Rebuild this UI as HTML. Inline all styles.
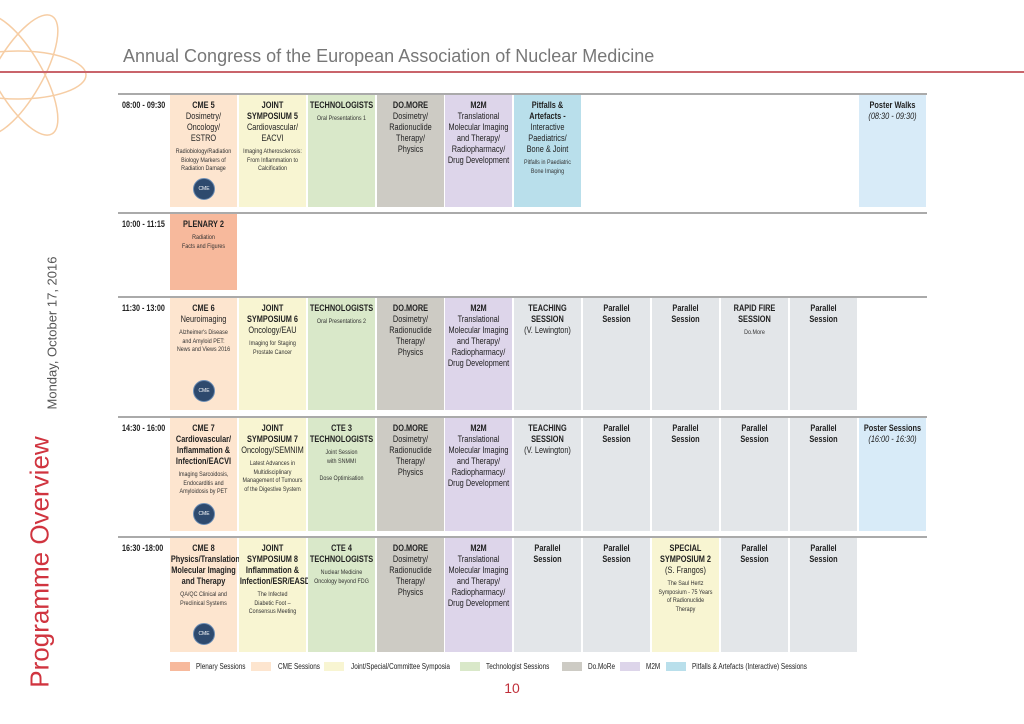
<!DOCTYPE html>
<html><head><meta charset="utf-8"><style>
body{margin:0;width:1024px;height:724px;background:#fff;position:relative;overflow:hidden;font-family:"Liberation Sans",sans-serif;color:#222}
.c{position:absolute;width:82px;text-align:center;font-size:9px;line-height:11px;box-sizing:border-box;padding:5px 1px 0;transform:scaleX(0.817);transform-origin:left top}
.c b{font-weight:bold}
.s{font-size:6.6px;line-height:8.5px;display:block;margin-top:4px;color:#333}
.t{position:absolute;left:122px;font-size:9px;font-weight:bold;transform:scaleX(0.8);transform-origin:left top;white-space:nowrap}
.ln{position:absolute;left:118px;width:809px;height:2px;background:#aaa}
.cme{position:absolute;width:20px;height:20px;border-radius:50%;background:#2e4a6e;border:1px solid #6b8db5;color:#fff;font-size:5px;line-height:20px;text-align:center}
.sw{position:absolute;top:662px;width:20px;height:9px}
.lt{position:absolute;top:662px;font-size:8px;line-height:9px;transform:scaleX(0.8);transform-origin:left top;white-space:nowrap}
.P{background:#f7b99c}.C{background:#fde5cf}.J{background:#f8f5d2}.T{background:#d9e8c9}.D{background:#cdcbc4}.M{background:#ddd5ea}.F{background:#b9dfeb}.G{background:#e3e6e9}.B{background:#d8ebf8}
</style></head><body>
<svg style="position:absolute;left:0;top:0" width="90" height="190"><g fill="none" stroke="#f6cda4" stroke-width="1.5">
<ellipse cx="18" cy="75" rx="68" ry="24" transform="rotate(60 18 75)"/>
<ellipse cx="18" cy="75" rx="68" ry="24" transform="rotate(-60 18 75)"/>
<ellipse cx="18" cy="75" rx="68" ry="24"/></g></svg>
<div style="position:absolute;left:123px;top:46px;font-size:18px;color:#777;font-weight:300">Annual Congress of the European Association of Nuclear Medicine</div>
<div style="position:absolute;left:0;top:71px;width:1024px;height:1.5px;background:#c9646b"></div>
<div style="position:absolute;left:52px;top:333px;transform:translate(-50%,-50%) rotate(-90deg);font-size:13px;color:#555;white-space:nowrap">Monday, October 17, 2016</div>
<div style="position:absolute;left:40px;top:562px;transform:translate(-50%,-50%) rotate(-90deg);font-size:26px;color:#d0343f;white-space:nowrap">Programme Overview</div>

<div class="ln" style="top:93px"></div><div class="ln" style="top:212px"></div><div class="ln" style="top:296px"></div><div class="ln" style="top:416px"></div><div class="ln" style="top:536px"></div>

<div class="t" style="top:100px">08:00 - 09:30</div>
<div class="t" style="top:219px">10:00 - 11:15</div>
<div class="t" style="top:303px">11:30 - 13:00</div>
<div class="t" style="top:423px">14:30 - 16:00</div>
<div class="t" style="top:543px">16:30 -18:00</div>

<!-- Row 1 -->
<div class="c C" style="left:170px;top:95px;height:112px"><b>CME 5</b><br>Dosimetry/<br>Oncology/<br>ESTRO<span class="s">Radiobiology/Radiation Biology Markers of Radiation Damage</span></div>
<div class="cme" style="left:193px;top:178px">CME</div>
<div class="c J" style="left:239px;top:95px;height:112px"><b>JOINT<br>SYMPOSIUM 5</b><br>Cardiovascular/<br>EACVI<span class="s">Imaging Atherosclerosis: From Inflammation to Calcification</span></div>
<div class="c T" style="left:308px;top:95px;height:112px"><b>TECHNOLOGISTS</b><span class="s">Oral Presentations 1</span></div>
<div class="c D" style="left:377px;top:95px;height:112px"><b>DO.MORE</b><br>Dosimetry/<br>Radionuclide<br>Therapy/<br>Physics</div>
<div class="c M" style="left:445px;top:95px;height:112px"><b>M2M</b><br>Translational<br>Molecular Imaging<br>and Therapy/<br>Radiopharmacy/<br>Drug Development</div>
<div class="c F" style="left:514px;top:95px;height:112px"><b>Pitfalls &amp;<br>Artefacts -</b><br>Interactive<br>Paediatrics/<br>Bone &amp; Joint<span class="s">Pitfalls in Paediatric<br>Bone Imaging</span></div>
<div class="c B" style="left:859px;top:95px;height:112px"><b>Poster Walks</b><br><i>(08:30 - 09:30)</i></div>

<!-- Row 2 -->
<div class="c P" style="left:170px;top:214px;height:76px"><b>PLENARY 2</b><span class="s">Radiation<br>Facts and Figures</span></div>

<!-- Row 3 -->
<div class="c C" style="left:170px;top:298px;height:112px"><b>CME 6</b><br>Neuroimaging<span class="s">Alzheimer's Disease<br>and Amyloid PET:<br>News and Views 2016</span></div>
<div class="cme" style="left:193px;top:380px">CME</div>
<div class="c J" style="left:239px;top:298px;height:112px"><b>JOINT<br>SYMPOSIUM 6</b><br>Oncology/EAU<span class="s">Imaging for Staging<br>Prostate Cancer</span></div>
<div class="c T" style="left:308px;top:298px;height:112px"><b>TECHNOLOGISTS</b><span class="s">Oral Presentations 2</span></div>
<div class="c D" style="left:377px;top:298px;height:112px"><b>DO.MORE</b><br>Dosimetry/<br>Radionuclide<br>Therapy/<br>Physics</div>
<div class="c M" style="left:445px;top:298px;height:112px"><b>M2M</b><br>Translational<br>Molecular Imaging<br>and Therapy/<br>Radiopharmacy/<br>Drug Development</div>
<div class="c G" style="left:514px;top:298px;height:112px"><b>TEACHING<br>SESSION</b><br>(V. Lewington)</div>
<div class="c G" style="left:583px;top:298px;height:112px"><b>Parallel<br>Session</b></div>
<div class="c G" style="left:652px;top:298px;height:112px"><b>Parallel<br>Session</b></div>
<div class="c G" style="left:721px;top:298px;height:112px"><b>RAPID FIRE<br>SESSION</b><span class="s">Do.More</span></div>
<div class="c G" style="left:790px;top:298px;height:112px"><b>Parallel<br>Session</b></div>

<!-- Row 4 -->
<div class="c C" style="left:170px;top:418px;height:113px"><b>CME 7<br>Cardiovascular/<br>Inflammation &amp;<br>Infection/EACVI</b><span class="s">Imaging Sarcoidosis,<br>Endocarditis and<br>Amyloidosis by PET</span></div>
<div class="cme" style="left:193px;top:503px">CME</div>
<div class="c J" style="left:239px;top:418px;height:113px"><b>JOINT<br>SYMPOSIUM 7</b><br>Oncology/SEMNIM<span class="s">Latest Advances in Multidisciplinary Management of Tumours of the Digestive System</span></div>
<div class="c T" style="left:308px;top:418px;height:113px"><b>CTE 3<br>TECHNOLOGISTS</b><span class="s">Joint Session<br>with SNMMI<br><br>Dose Optimisation</span></div>
<div class="c D" style="left:377px;top:418px;height:113px"><b>DO.MORE</b><br>Dosimetry/<br>Radionuclide<br>Therapy/<br>Physics</div>
<div class="c M" style="left:445px;top:418px;height:113px"><b>M2M</b><br>Translational<br>Molecular Imaging<br>and Therapy/<br>Radiopharmacy/<br>Drug Development</div>
<div class="c G" style="left:514px;top:418px;height:113px"><b>TEACHING<br>SESSION</b><br>(V. Lewington)</div>
<div class="c G" style="left:583px;top:418px;height:113px"><b>Parallel<br>Session</b></div>
<div class="c G" style="left:652px;top:418px;height:113px"><b>Parallel<br>Session</b></div>
<div class="c G" style="left:721px;top:418px;height:113px"><b>Parallel<br>Session</b></div>
<div class="c G" style="left:790px;top:418px;height:113px"><b>Parallel<br>Session</b></div>
<div class="c B" style="left:859px;top:418px;height:113px"><b>Poster Sessions</b><br><i>(16:00 - 16:30)</i></div>

<!-- Row 5 -->
<div class="c C" style="left:170px;top:538px;height:114px"><b>CME 8<br>Physics/Translational<br>Molecular Imaging<br>and Therapy</b><span class="s">QA/QC Clinical and<br>Preclinical Systems</span></div>
<div class="cme" style="left:193px;top:623px">CME</div>
<div class="c J" style="left:239px;top:538px;height:114px"><b>JOINT<br>SYMPOSIUM 8<br>Inflammation &amp;<br>Infection/ESR/EASD</b><span class="s">The Infected<br>Diabetic Foot –<br>Consensus Meeting</span></div>
<div class="c T" style="left:308px;top:538px;height:114px"><b>CTE 4<br>TECHNOLOGISTS</b><span class="s">Nuclear Medicine<br>Oncology beyond FDG</span></div>
<div class="c D" style="left:377px;top:538px;height:114px"><b>DO.MORE</b><br>Dosimetry/<br>Radionuclide<br>Therapy/<br>Physics</div>
<div class="c M" style="left:445px;top:538px;height:114px"><b>M2M</b><br>Translational<br>Molecular Imaging<br>and Therapy/<br>Radiopharmacy/<br>Drug Development</div>
<div class="c G" style="left:514px;top:538px;height:114px"><b>Parallel<br>Session</b></div>
<div class="c G" style="left:583px;top:538px;height:114px"><b>Parallel<br>Session</b></div>
<div class="c J" style="left:652px;top:538px;height:114px"><b>SPECIAL<br>SYMPOSIUM 2</b><br>(S. Frangos)<span class="s">The Saul Hertz<br>Symposium - 75 Years<br>of Radionuclide<br>Therapy</span></div>
<div class="c G" style="left:721px;top:538px;height:114px"><b>Parallel<br>Session</b></div>
<div class="c G" style="left:790px;top:538px;height:114px"><b>Parallel<br>Session</b></div>

<!-- Legend -->
<div class="sw P" style="left:170px"></div><div class="lt" style="left:196px">Plenary Sessions</div>
<div class="sw C" style="left:251px"></div><div class="lt" style="left:278px">CME Sessions</div>
<div class="sw J" style="left:324px"></div><div class="lt" style="left:351px">Joint/Special/Committee Symposia</div>
<div class="sw T" style="left:460px"></div><div class="lt" style="left:486px">Technologist Sessions</div>
<div class="sw D" style="left:562px"></div><div class="lt" style="left:588px">Do.MoRe</div>
<div class="sw M" style="left:620px"></div><div class="lt" style="left:646px">M2M</div>
<div class="sw F" style="left:666px"></div><div class="lt" style="left:692px">Pitfalls &amp; Artefacts (Interactive) Sessions</div>
<div style="position:absolute;left:500px;top:680px;width:24px;text-align:center;font-size:14px;color:#c0303a">10</div>
</body></html>
